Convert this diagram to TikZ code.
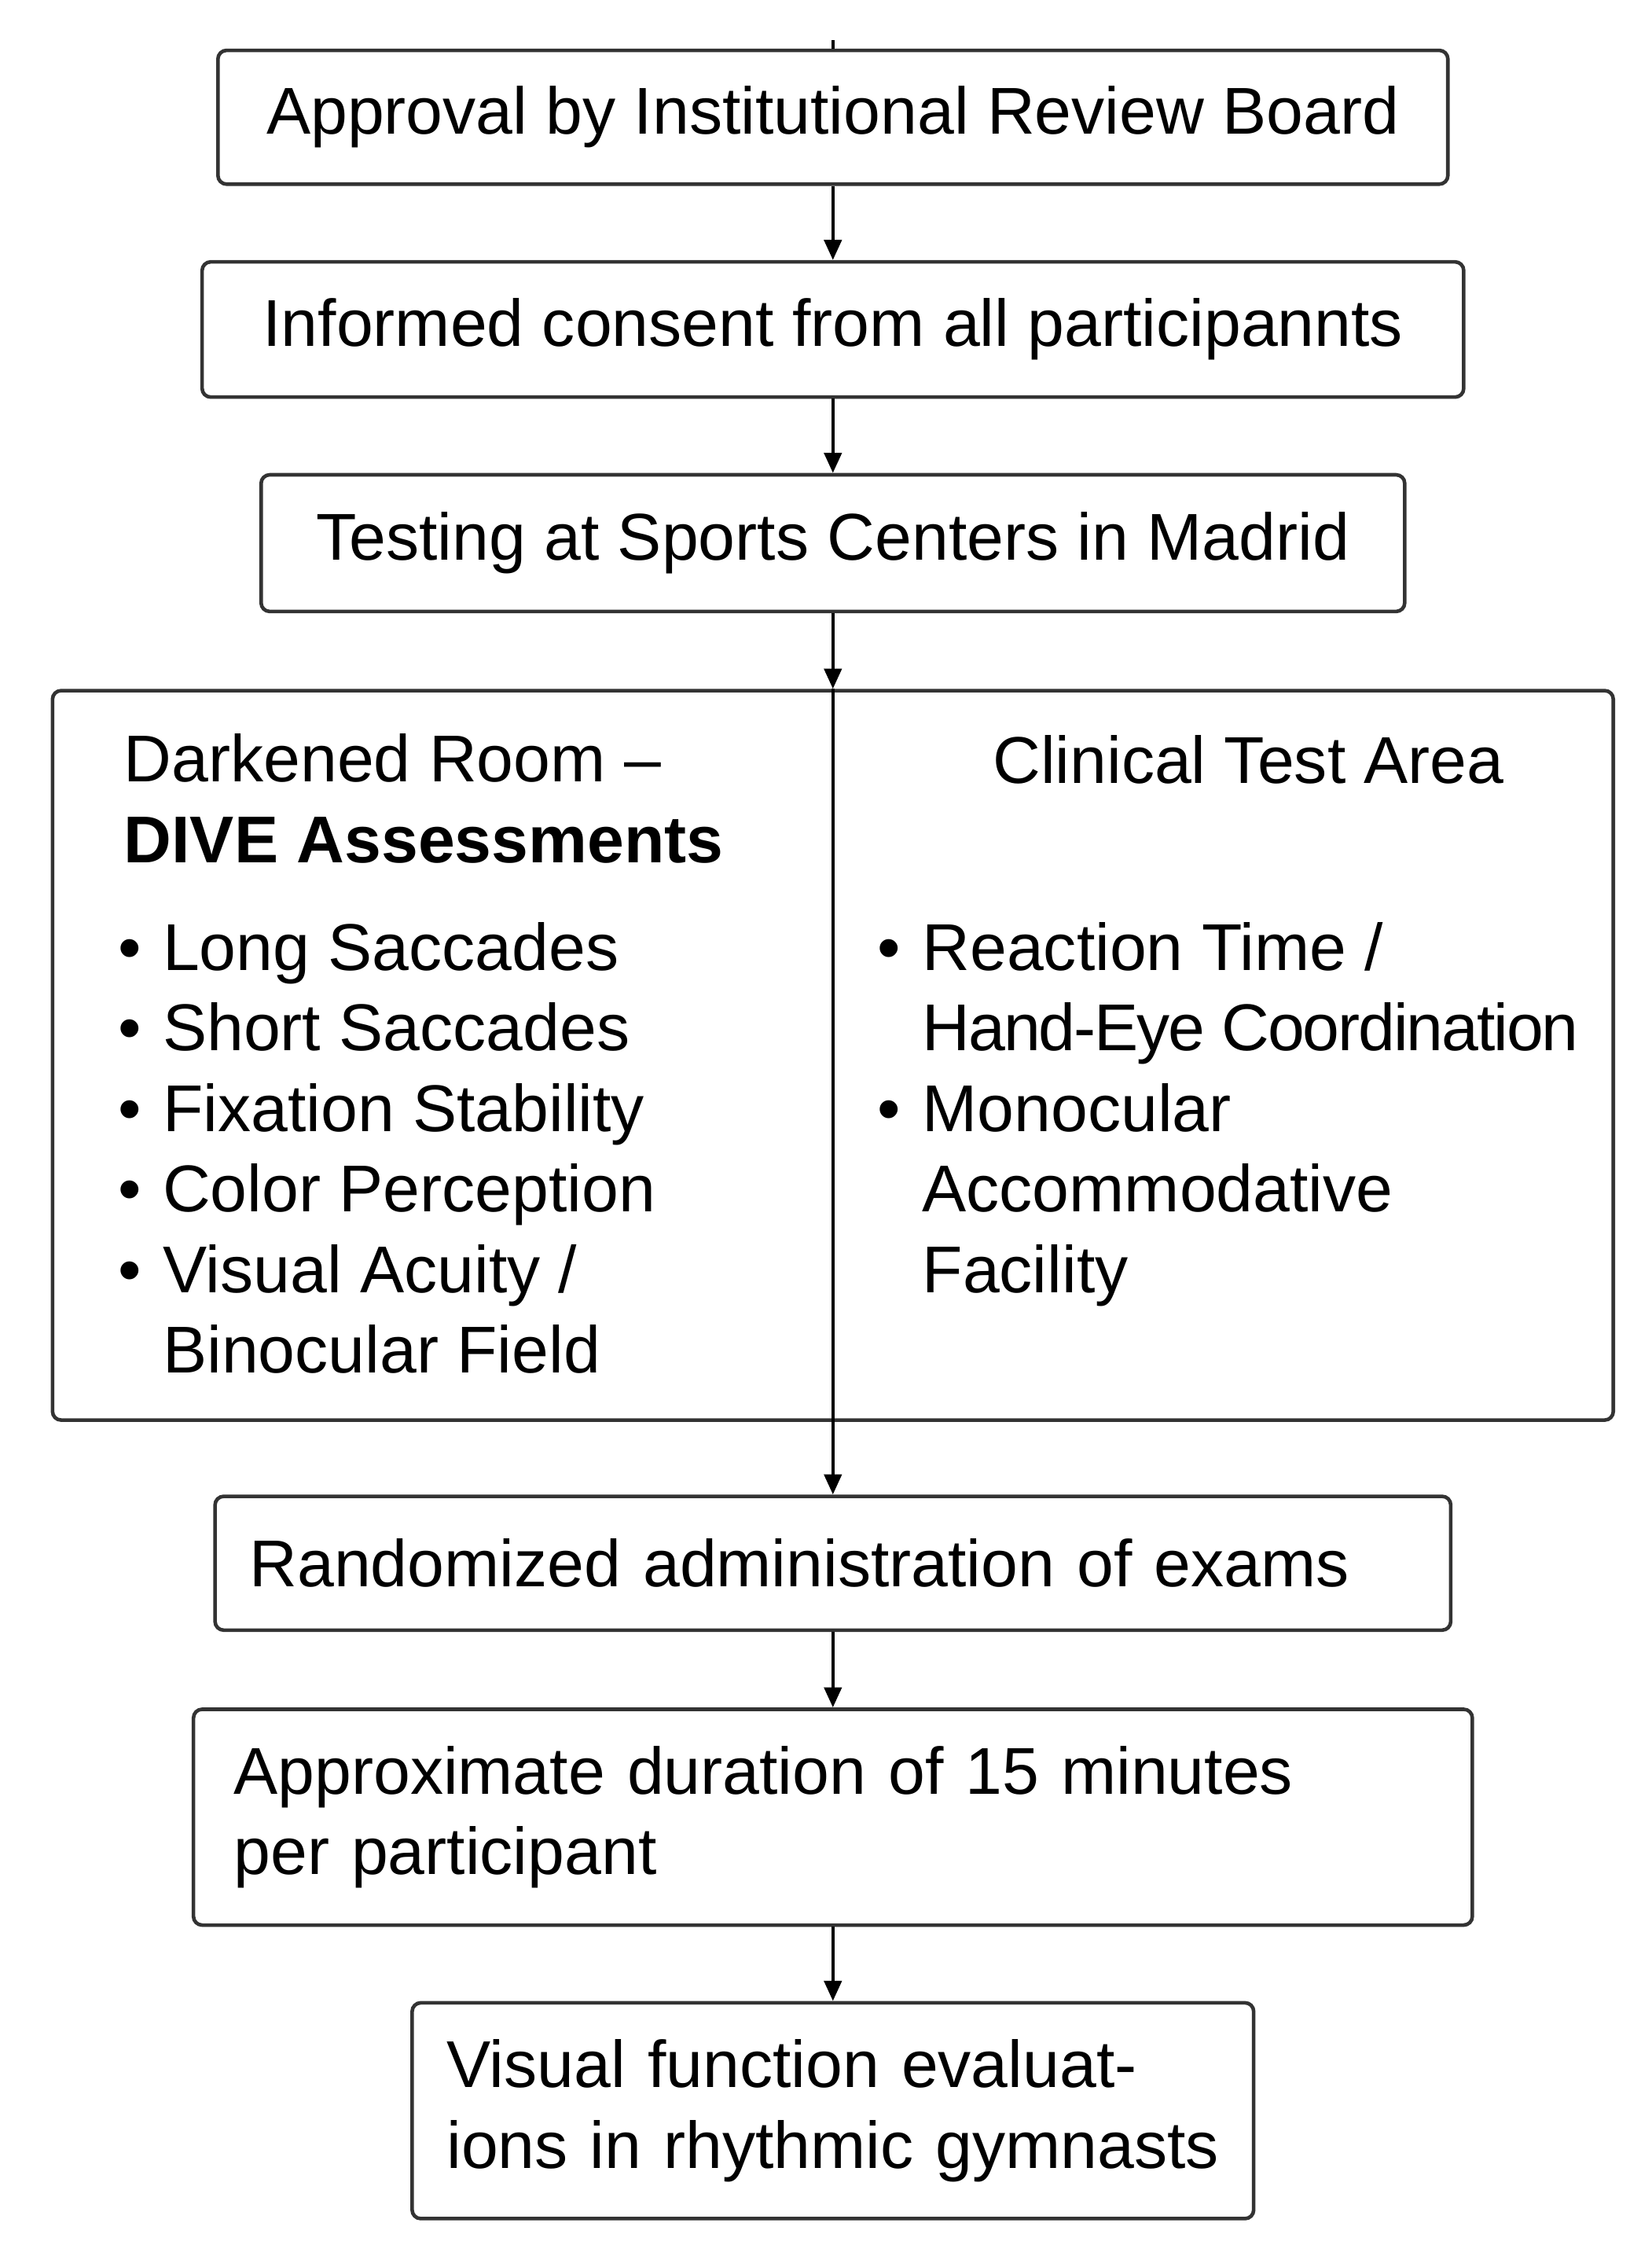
\documentclass[tikz,border=0pt]{standalone}
\usepackage{fontspec}
\setmainfont{Liberation Sans}
\usetikzlibrary{arrows.meta}
\usetikzlibrary{positioning}
\newcommand{\bul}{\makebox[31pt][l]{\textbullet}}
\newcommand{\gap}{\hspace*{31pt}}

\begin{document}
\begin{tikzpicture}[x=1pt,y=-1pt]
    \useasboundingbox (0,0) rectangle (1148,1568);
    \tikzset{txt/.style={font=\fontsize{46}{56}\selectfont,inner sep=0pt,align=left}}
    \begin{scope}[every node/.style={rectangle,rounded corners=6pt,draw=black!80,line width=2.5pt,font=\fontsize{46}{56}\selectfont,inner ysep=0pt}]
      \node[minimum width=855pt,minimum height=93pt] (irb) at (579,81.5) {Approval by Institutional Review Board};
      \node[minimum width=877pt,minimum height=94pt] (consent) at (579,229) {Informed consent from all participannts};
      \node[minimum width=795pt,minimum height=95pt] (testing) at (579,377.5) {Testing at Sports Centers in Madrid};
      \node[minimum width=1085pt,minimum height=507pt] (setting) at (579,733.5) {};
      \node[minimum width=859pt,minimum height=93pt,inner xsep=24pt,text width=811pt,align=left] (random) at (579,1086.5) {Randomized administration of exams};
      \node[minimum width=889pt,minimum height=150pt,inner xsep=28pt,text width=833pt,align=left] (duration) at (579,1263) {Approximate duration of 15 minutes\\per participant};
      \node[minimum width=585pt,minimum height=150pt,inner xsep=24pt,text width=537pt,align=left] (eval) at (579,1467) {\mbox{Visual function evaluat-}\\\mbox{ions in rhythmic gymnasts}};
    \end{scope}
    % the two test areas
    \node[txt,anchor=west] (darktitle) at (86,555) {Darkened Room \textendash\\\textbf{DIVE Assessments}};
    \node[txt,anchor=west] (darklist) at (82,798) {\bul Long Saccades\\\bul Short Saccades\\\bul Fixation Stability\\\bul Color Perception\\\bul Visual Acuity /\\\gap Binocular Field};
    \node[txt,anchor=west] (clintitle) at (690,528) {Clinical Test Area};
    \node[txt,anchor=west] (clinlist) at (610,774.5) {\bul Reaction Time /\\\gap{\addfontfeature{LetterSpace=-2.5}Hand-Eye Coordination}\\\bul Monocular\\\gap Accommodative\\\gap Facility};
    \coordinate (start) at (579,28);
    \begin{scope}[every edge/.style={draw=black,line width=2.5pt,-{Triangle[length=14pt,width=12pt]}}]
      \path (irb) edge (consent);
      \path (consent) edge (testing);
      \path (testing) edge (setting);
      \path (setting.north) edge (random);
      \path (random) edge (duration);
      \path (duration) edge (eval);
    \end{scope}
    \path (start) edge[draw=black,line width=2.5pt] (irb);
\end{tikzpicture}
\end{document}
